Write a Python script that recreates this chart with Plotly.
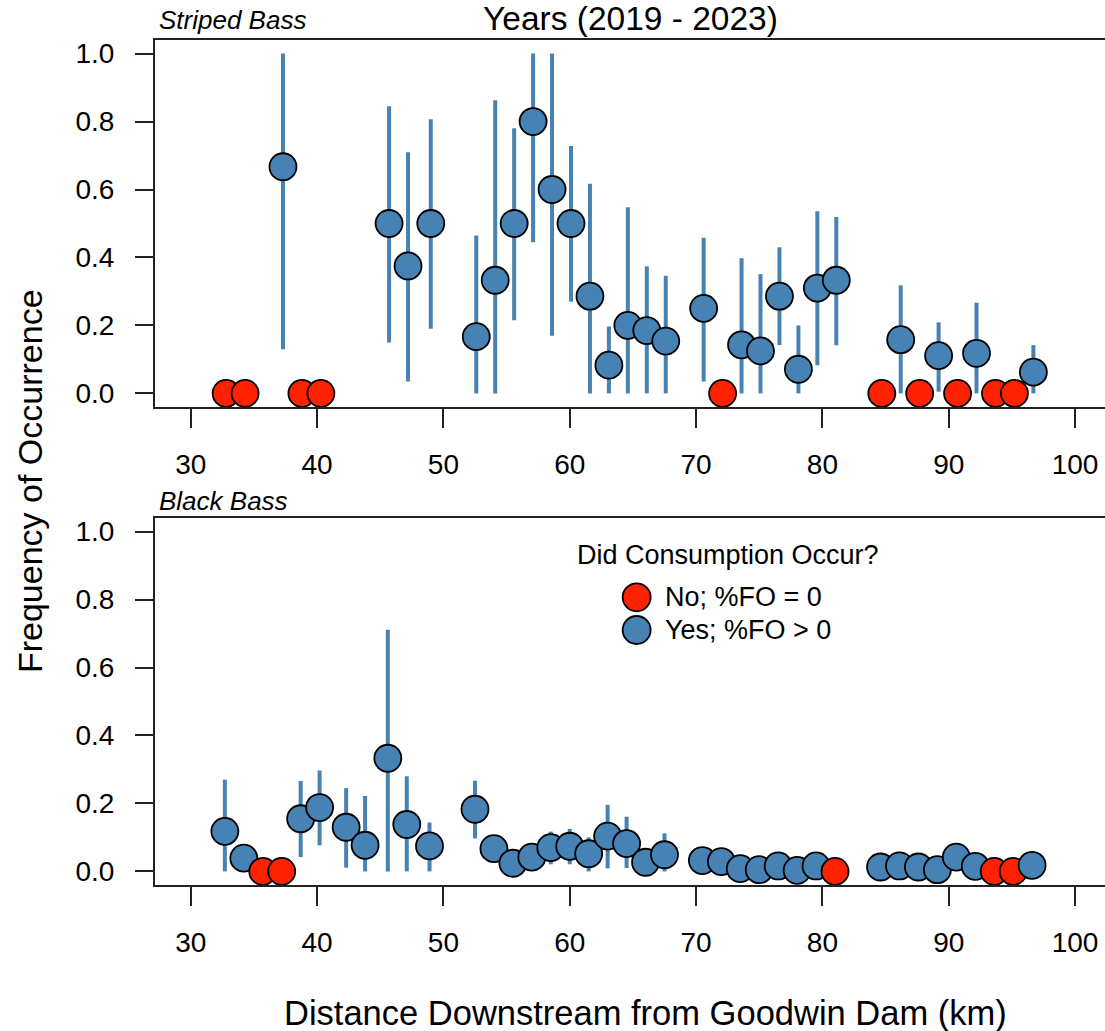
import plotly.graph_objects as go
from plotly.subplots import make_subplots

# ---------------- data ----------------
sb_km = [32.8, 34.3, 37.3, 38.8, 40.3, 45.7, 47.2, 49.0, 52.6, 54.1, 55.6, 57.1, 58.6, 60.1,
         61.6, 63.1, 64.6, 66.1, 67.6, 70.6, 72.1, 73.6, 75.1, 76.6, 78.1, 79.6, 81.1, 84.7,
         86.2, 87.7, 89.2, 90.7, 92.2, 93.7, 95.2, 96.7]
sb_fo = [0, 0, 0.667, 0, 0, 0.5, 0.375, 0.5, 0.167, 0.333, 0.5, 0.8, 0.6, 0.5,
         0.286, 0.083, 0.2, 0.185, 0.154, 0.25, 0, 0.143, 0.125, 0.286, 0.071, 0.31, 0.333, 0,
         0.158, 0, 0.111, 0, 0.118, 0, 0, 0.0625]
sb_lo = [0, 0, 0.13, 0, 0, 0.15, 0.035, 0.19, 0, 0, 0.215, 0.445, 0.17, 0.27,
         0, 0, 0, 0, 0, 0.035, 0, 0, 0, 0.142, 0, 0.083, 0.142, 0,
         0, 0, 0.005, 0, 0, 0, 0, 0]
sb_hi = [0, 0, 1.0, 0, 0, 0.845, 0.71, 0.807, 0.465, 0.863, 0.78, 1.0, 1.0, 0.728,
         0.617, 0.197, 0.548, 0.374, 0.346, 0.458, 0, 0.398, 0.351, 0.43, 0.2, 0.536, 0.519, 0,
         0.318, 0, 0.209, 0, 0.267, 0, 0, 0.142]

bb_km = [32.7, 34.2, 35.7, 37.2, 38.7, 40.2, 42.3, 43.8, 45.6, 47.1, 48.9, 52.5, 54.0,
         55.5, 57.0, 58.5, 60.0, 61.5, 63.0, 64.5, 66.0, 67.5, 70.5, 72.0, 73.5, 75.0,
         76.5, 78.0, 79.5, 81.0, 84.6, 86.1, 87.6, 89.1, 90.6, 92.1, 93.6, 95.1, 96.6]
bb_fo = [0.118, 0.039, 0, 0, 0.155, 0.188, 0.13, 0.077, 0.333, 0.138, 0.075, 0.183, 0.067,
         0.024, 0.042, 0.07, 0.074, 0.052, 0.104, 0.082, 0.027, 0.049, 0.032, 0.029, 0.008, 0.005,
         0.016, 0.003, 0.016, 0, 0.013, 0.016, 0.013, 0.005, 0.042, 0.015, 0, 0, 0.018]
bb_lo = [0, 0.039, 0, 0, 0.042, 0.077, 0.011, 0, 0, 0, 0, 0.097, 0.067,
         0.024, 0.042, 0.021, 0.021, 0, 0.009, 0.01, 0, 0, 0.032, 0.029, 0.008, 0.005,
         0.016, 0.003, 0.016, 0, 0.013, 0.016, 0.013, 0.005, 0.042, 0.015, 0, 0, 0.018]
bb_hi = [0.27, 0.039, 0, 0, 0.266, 0.297, 0.245, 0.222, 0.711, 0.28, 0.144, 0.267, 0.067,
         0.024, 0.042, 0.117, 0.125, 0.1, 0.196, 0.161, 0.06, 0.112, 0.032, 0.029, 0.008, 0.005,
         0.016, 0.003, 0.016, 0, 0.013, 0.016, 0.013, 0.005, 0.042, 0.015, 0, 0, 0.018]

x_ticks = [30, 40, 50, 60, 70, 80, 90, 100]
y_ticks = [0.0, 0.2, 0.4, 0.6, 0.8, 1.0]
y_tick_text = ["0.0", "0.2", "0.4", "0.6", "0.8", "1.0"]

BLUE = "#4682B4"
RED = "#FF2200"
FONT = "Liberation Sans, Arial, sans-serif"

fig = make_subplots(rows=2, cols=1, vertical_spacing=0.1314)


def add_panel(km, fo, lo, hi, row):
    ex, ey = [], []
    for k, l, h in zip(km, lo, hi):
        if h > l:
            ex += [k, k, None]
            ey += [l, h, None]
    fig.add_trace(go.Scatter(x=ex, y=ey, mode="lines",
                             line=dict(color=BLUE, width=4),
                             hoverinfo="skip", showlegend=False), row=row, col=1)
    colors = [RED if v == 0 else BLUE for v in fo]
    fig.add_trace(go.Scatter(x=km, y=fo, mode="markers",
                             marker=dict(size=27, color=colors,
                                         line=dict(color="black", width=1.8)),
                             showlegend=False), row=row, col=1)


add_panel(sb_km, sb_fo, sb_lo, sb_hi, 1)
add_panel(bb_km, bb_fo, bb_lo, bb_hi, 2)

xax = dict(range=[27.17, 102.37], tickvals=x_ticks, ticks="outside", ticklen=19,
           tickwidth=2, tickcolor="#222", showline=True, linecolor="#222", linewidth=2,
           mirror=True, showgrid=False, zeroline=False, ticklabelstandoff=12,
           tickfont=dict(family=FONT, size=28, color="black"))
yax = dict(range=[-0.04, 1.04], tickvals=y_ticks, ticktext=y_tick_text, ticks="outside",
           ticklen=18, tickwidth=2, tickcolor="#222", showline=True, linecolor="#222",
           linewidth=2, mirror=False, showgrid=False, zeroline=False, ticklabelstandoff=15,
           tickfont=dict(family=FONT, size=28, color="black"))

fig.update_layout(
    width=1105, height=1031,
    margin=dict(l=155, r=0, t=40, b=146),
    paper_bgcolor="white", plot_bgcolor="white",
    xaxis=dict(xax, domain=[0, 1]), xaxis2=dict(xax, domain=[0, 1]),
    yaxis=dict(yax, domain=[0.5657, 1.0]), yaxis2=dict(yax, domain=[0.0, 0.4343]),
    showlegend=False,
)

ann = [
    dict(text="Years (2019 - 2023)", x=0.501, y=1.026, size=33.5, xanchor="center"),
    dict(text="<i>Striped Bass</i>", x=0.002, y=1.0237, size=26, xanchor="left"),
    dict(text="<i>Black Bass</i>", x=0.002, y=0.4544, size=26, xanchor="left"),
    dict(text="Distance Downstream from Goodwin Dam (km)", x=0.5158, y=-0.1515, size=34.5,
         xanchor="center"),
    dict(text="Did Consumption Occur?", x=0.6032, y=0.3905, size=27, xanchor="center"),
    dict(text="No; %FO = 0", x=0.535, y=0.3405, size=27, xanchor="left"),
    dict(text="Yes; %FO > 0", x=0.535, y=0.3018, size=27, xanchor="left"),
]
for a in ann:
    fig.add_annotation(text=a["text"], x=a["x"], y=a["y"], xref="paper", yref="paper",
                       xanchor=a["xanchor"], yanchor="middle", showarrow=False,
                       font=dict(family=FONT, size=a["size"], color="black"))

fig.add_annotation(text="Frequency of Occurrence", x=-0.1316, y=0.478, xref="paper",
                   yref="paper", xanchor="center", yanchor="middle", textangle=-90,
                   showarrow=False, font=dict(family=FONT, size=34, color="black"))

for col, yy in [(RED, 0.3405), (BLUE, 0.3018)]:
    fig.add_shape(type="circle", xref="paper", yref="paper", xsizemode="pixel",
                  ysizemode="pixel", xanchor=0.507, yanchor=yy, x0=-14, x1=14, y0=-14, y1=14,
                  fillcolor=col, line=dict(color="black", width=1.8))

fig.write_html("out.html")
